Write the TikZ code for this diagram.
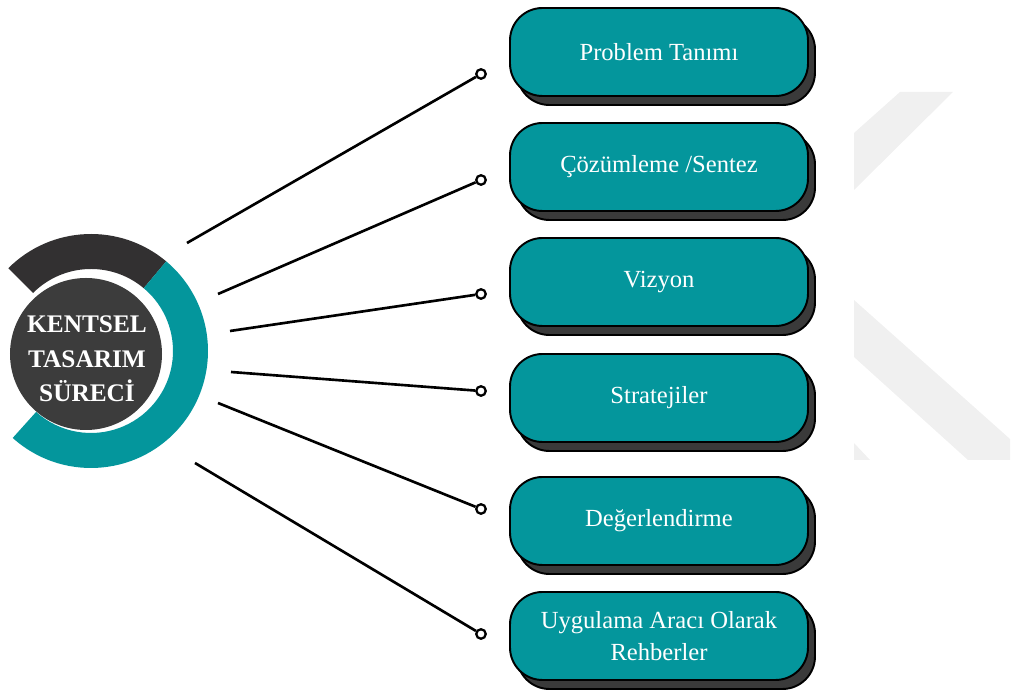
\documentclass[tikz,border=0pt]{standalone}
\usepackage{fontspec}
\setmainfont{Liberation Serif}
\usetikzlibrary{shadows}
\definecolor{myteal}{RGB}{4,150,156}
\definecolor{mydark}{RGB}{50,48,49}
\definecolor{mycore}{RGB}{60,60,60}
\definecolor{myshadow}{RGB}{58,58,58}
\definecolor{mymark}{RGB}{240,240,240}
\begin{document}
\begin{tikzpicture}

\tikzstyle{phase} = [draw=black, line width=1.1pt, fill=myteal,
    rounded corners=0.65cm, minimum width=5.96cm, minimum height=1.76cm,
    text=white, font=\fontsize{14}{18}\selectfont, align=center,
    general shadow={shadow xshift=0.14cm, shadow yshift=-0.18cm,
    fill=myshadow, draw=black, line width=1.1pt}]
\tikzstyle{knob} = [circle, draw=black, line width=1.3pt, fill=white,
    inner sep=0, minimum size=0.19cm]
\tikzstyle{link} = [line width=1.5pt, draw=black]

\useasboundingbox (0,0) rectangle (20.22,13.86);

% =========================
% watermark in the back
% =========================
\fill[mymark] (17.08,11.20) -- (18.00,12.02) -- (19.06,12.02) -- (17.08,10.06) -- cycle;
\fill[mymark] (17.08,7.86) -- (20.20,5.08) -- (20.20,4.66) -- (19.36,4.66) -- (17.08,6.72) -- cycle;
\fill[mymark] (17.08,5.00) -- (17.08,4.66) -- (17.40,4.66) -- cycle;

% =========================
% ring and core
% =========================
\coordinate (ring) at (1.82,6.84);
\fill[mydark] ([shift={(50:2.34)}]ring) arc (50:135:2.34)
    -- ([shift={(135:1.64)}]ring) arc (135:50:1.64) -- cycle;
\fill[myteal] ([shift={(-132:2.34)}]ring) arc (-132:50:2.34)
    -- ([shift={(50:1.64)}]ring) arc (50:-132:1.64) -- cycle;
\fill[mycore] (1.72,6.78) circle (1.52);
\node[text=white, align=center, font=\fontsize{14.4}{19.5}\selectfont\bfseries]
    (core) at (1.74,6.68) {KENTSEL\\TASARIM\\SÜRECİ};

% =========================
% steps of the process
% =========================
\node[phase] (p1) at (13.18,12.82) {Problem Tanımı};
\node[phase] (p2) at (13.18,10.52) {Çözümleme /Sentez};
\node[phase] (p3) at (13.18,8.22) {Vizyon};
\node[phase] (p4) at (13.18,5.90) {Stratejiler};
\node[phase] (p5) at (13.18,3.44) {Değerlendirme};
\node[phase] (p6) at (13.18,1.14) {Uygulama Aracı Olarak\\Rehberler};

% =========================
% connectors
% =========================
\coordinate (s1) at (3.74,9.00);
\coordinate (s2) at (4.36,7.98);
\coordinate (s3) at (4.60,7.24);
\coordinate (s4) at (4.62,6.42);
\coordinate (s5) at (4.36,5.80);
\coordinate (s6) at (3.90,4.60);

\node[knob] (k1) at (9.62,12.38) {};
\node[knob] (k2) at (9.62,10.26) {};
\node[knob] (k3) at (9.62,7.98) {};
\node[knob] (k4) at (9.62,6.04) {};
\node[knob] (k5) at (9.62,3.68) {};
\node[knob] (k6) at (9.62,1.18) {};

\draw[link] (s1) -- (k1);
\draw[link] (s2) -- (k2);
\draw[link] (s3) -- (k3);
\draw[link] (s4) -- (k4);
\draw[link] (s5) -- (k5);
\draw[link] (s6) -- (k6);

\end{tikzpicture}
\end{document}
